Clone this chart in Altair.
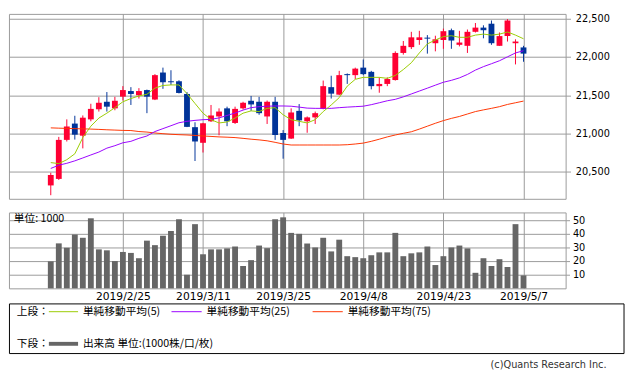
import altair as alt
import pandas as pd

# ---------------- data ----------------
idx = list(range(60))
opens = [20323, 20408, 20918, 21131, 20973, 21186, 21318, 21416, 21330, 21483,
         21556, 21501, 21569, 21445, 21798, 21684, 21684, 21518, 21084, 20880,
         21161, 21224, 21330, 21139, 21330, 21429, 21416, 21224, 21416, 21008,
         20935, 21297, 21161, 21212, 21323, 21607, 21509, 21777, 21764, 21862,
         21807, 21620, 21649, 21700, 22054, 22130, 22223, 22254, 22181, 22223,
         22351, 22160, 22147, 22330, 22385, 22436, 22147, 22274, 22181, 22126]
highs = [20489, 20957, 21186, 21233, 21237, 21390, 21476, 21543, 21480, 21620,
         21607, 21594, 21575, 21777, 21862, 21828, 21697, 21543, 21148, 21140,
         21374, 21330, 21352, 21352, 21416, 21492, 21480, 21432, 21480, 21046,
         21330, 21386, 21224, 21288, 21693, 21756, 21820, 21786, 21862, 21968,
         21820, 21735, 21735, 22075, 22210, 22330, 22343, 22287, 22279, 22372,
         22372, 22343, 22360, 22445, 22415, 22478, 22321, 22496, 22232, 22147]
lows = [20195, 20395, 20897, 20922, 20807, 21161, 21288, 21288, 21305, 21432,
        21374, 21458, 21267, 21438, 21585, 21636, 21525, 21085, 20642, 20753,
        21152, 20978, 21097, 21126, 21314, 21297, 21246, 21126, 20918, 20672,
        20930, 21097, 21011, 21126, 21318, 21458, 21501, 21649, 21713, 21764,
        21578, 21534, 21620, 21693, 22032, 22105, 22160, 22045, 22075, 22108,
        22108, 22139, 22054, 22321, 22245, 22160, 22147, 22203, 21904, 21939]
closes = [20459, 20918, 21093, 20986, 21208, 21323, 21403, 21352, 21429, 21569,
          21518, 21556, 21483, 21764, 21671, 21671, 21531, 21088, 20897, 21135,
          21237, 21288, 21161, 21323, 21403, 21381, 21267, 21416, 20982, 20918,
          21276, 21173, 21212, 21267, 21620, 21522, 21764, 21764, 21849, 21777,
          21620, 21649, 21713, 22054, 22147, 22258, 22258, 22241, 22232, 22338,
          22216, 22190, 22330, 22385, 22351, 22181, 22274, 22478, 22203, 22045]
ma5 = [20621, 20608, 20659, 20736, 20948, 21097, 21203, 21267, 21339, 21416,
       21458, 21492, 21514, 21594, 21629, 21636, 21636, 21522, 21394, 21267,
       21182, 21139, 21152, 21203, 21267, 21297, 21288, 21330, 21339, 21246,
       21182, 21161, 21139, 21182, 21288, 21374, 21470, 21620, 21709, 21735,
       21735, 21735, 21722, 21760, 21837, 21926, 22054, 22172, 22223, 22267,
       22279, 22258, 22258, 22287, 22300, 22287, 22300, 22328, 22287, 22239]
ma25 = [20545, 20587, 20612, 20644, 20682, 20721, 20759, 20810, 20842, 20880,
        20899, 20938, 20969, 21027, 21065, 21103, 21142, 21161, 21173, 21182,
        21186, 21205, 21237, 21269, 21307, 21339, 21352, 21358, 21361, 21361,
        21358, 21346, 21333, 21330, 21330, 21330, 21339, 21346, 21352, 21358,
        21378, 21403, 21429, 21448, 21480, 21518, 21556, 21594, 21633, 21671,
        21696, 21728, 21773, 21830, 21875, 21913, 21952, 22003, 22054, 22083]
ma75 = [21075, 21071, 21068, 21065, 21062, 21059, 21055, 21050, 21046, 21042,
        21040, 21027, 21020, 21008, 20999, 20991, 20986, 20982, 20976, 20969,
        20963, 20957, 20953, 20948, 20938, 20927, 20918, 20906, 20886, 20864,
        20851, 20851, 20851, 20851, 20851, 20851, 20851, 20855, 20864, 20876,
        20899, 20927, 20957, 20982, 21004, 21024, 21059, 21097, 21135, 21170,
        21199, 21224, 21256, 21288, 21310, 21330, 21352, 21381, 21403, 21425]
volume = [19.8, 33, 29.8, 39.5, 37.1, 51.4, 28.6, 27.9, 20, 26.7,
          26, 22.1, 35, 31.7, 38.6, 42.1, 50.7, 10, 47.1, 25,
          28.6, 28.6, 29.3, 30.7, 16.4, 20.7, 31.4, 29.5, 50.7, 52.1,
          40.7, 40, 32.9, 30, 37.1, 27.1, 35.7, 23.6, 22.9, 22.1,
          24.3, 26.4, 26.4, 40.7, 23.6, 25.7, 26.4, 30.7, 17.1, 23.6,
          30, 31.4, 29.3, 11.4, 22.1, 16.4, 21.4, 15.7, 47.1, 9.5]

tick_idx = [9, 19, 29, 39, 49, 59]
tick_labels = ["2019/2/25", "2019/3/11", "2019/3/25", "2019/4/8", "2019/4/23", "2019/5/7"]
price_ticks = [20500, 21000, 21500, 22000, 22500]
vol_ticks = [10, 20, 30, 40, 50]
legend_labels = ["単純移動平均(5)", "単純移動平均(25)", "単純移動平均(75)"]
vol_label = "出来高 単位:(1000株/口/枚)"
unit_label = "単位: 1000"
copyright_label = "(c)Quants Research Inc."

df = pd.DataFrame(dict(i=idx, open=opens, high=highs, low=lows, close=closes,
                       ma5=ma5, ma25=ma25, ma75=ma75, vol=volume))
one = pd.DataFrame({"k": [0]})

# ---------------- styles ----------------
RED = "#FF0033"
BLUE = "#003399"
C5 = "#99CC00"
C25 = "#9900FF"
C75 = "#FF3300"
GRID = "#999999"
VOLC = "#666666"
JP = "Noto Sans CJK JP"

x_scale = alt.Scale(domain=[-4.61, 63.65], nice=False, zero=False)
p_scale = alt.Scale(domain=[20148, 22564], nice=False, zero=False)
v_scale = alt.Scale(domain=[0, 55.7], nice=False, zero=True)

x_axis_top = alt.Axis(values=tick_idx, grid=True, labels=False, ticks=False,
                      domain=False, title=None)
date_expr = "".join(f"datum.value == {i} ? '{d}' : " for i, d in zip(tick_idx, tick_labels)) + "''"
x_axis_bot = alt.Axis(values=tick_idx, grid=True, labelExpr=date_expr, ticks=False,
                      domain=False, title=None, labelFontSize=11, labelPadding=2,
                      labelOverlap=False)
p_axis = alt.Axis(orient="right", values=price_ticks, format=",.0f", grid=True,
                  tickSize=5, labelPadding=5, domain=False, title=None)
v_axis = alt.Axis(orient="right", values=vol_ticks, format=".0f", grid=True, tickSize=4,
                  labelPadding=3, domain=False, title=None)

cond = alt.condition("datum.close >= datum.open", alt.value(RED), alt.value(BLUE))

base = alt.Chart(df).encode(x=alt.X("i:Q", scale=x_scale, axis=x_axis_top))

wick = base.mark_rule(strokeWidth=1).encode(
    y=alt.Y("low:Q", scale=p_scale, axis=p_axis), y2="high:Q", color=cond)
body = base.mark_bar(size=6).encode(
    y=alt.Y("open:Q", scale=p_scale, axis=p_axis), y2="close:Q", color=cond)
l5 = base.mark_line(color=C5, strokeWidth=1).encode(y=alt.Y("ma5:Q", scale=p_scale, axis=p_axis))
l25 = base.mark_line(color=C25, strokeWidth=1).encode(y=alt.Y("ma25:Q", scale=p_scale, axis=p_axis))
l75 = base.mark_line(color=C75, strokeWidth=1).encode(y=alt.Y("ma75:Q", scale=p_scale, axis=p_axis))

upper = alt.layer(wick, body, l75, l25, l5).properties(width=572, height=190)

# ---------------- volume panel + legend ----------------
bars = alt.Chart(df).mark_bar(size=6, color=VOLC).encode(
    x=alt.X("i:Q", scale=x_scale, axis=x_axis_bot),
    y=alt.Y("vol:Q", scale=v_scale, axis=v_axis))

unit_txt = alt.Chart(one).mark_text(text=unit_label, align="left", baseline="middle",
                                    font=JP, fontSize=11, color="#000").encode(
    x=alt.value(5), y=alt.value(7))

box = alt.Chart(one).mark_rect(fill="white", stroke="#000", strokeWidth=1).encode(
    x=alt.value(0.5), x2=alt.value(632), y=alt.value(94), y2=alt.value(145))

def lg_line(x1, x2, y, color, w):
    return alt.Chart(one).mark_rule(color=color, strokeWidth=w).encode(
        x=alt.value(x1), x2=alt.value(x2), y=alt.value(y))

def lg_text(txt, x, y, size=11, align="left", font=JP, color="#000"):
    return alt.Chart(one).mark_text(text=txt, align=align, baseline="middle",
                                    font=font, fontSize=size, color=color).encode(
        x=alt.value(x), y=alt.value(y))

legend_layers = [
    box,
    lg_text("上段：", 8, 102),
    lg_line(41, 71, 102, C5, 1), lg_text(legend_labels[0], 76, 102),
    lg_line(167, 198, 102, C25, 1), lg_text(legend_labels[1], 203, 102),
    lg_line(312, 343, 102, C75, 1), lg_text(legend_labels[2], 348, 102),
    lg_text("下段：", 8, 135),
    lg_line(41, 71, 135, VOLC, 4), lg_text(vol_label, 76, 135),
    lg_text(copyright_label, 614, 157, size=10, align="right",
            font="DejaVu Sans", color="#333333"),
]

lower = alt.layer(bars, unit_txt, *legend_layers).properties(width=572, height=78)

chart = alt.vconcat(upper, lower, spacing=12).properties(padding=0).configure_view(
    stroke=GRID, strokeWidth=1
).configure_axis(
    gridColor=GRID, gridWidth=1, gridOpacity=1, tickColor=GRID, labelColor="#000",
    labelFont="DejaVu Sans", labelFontSize=10
)

chart.save("out.html", embed_options={"renderer": "svg", "actions": False})
